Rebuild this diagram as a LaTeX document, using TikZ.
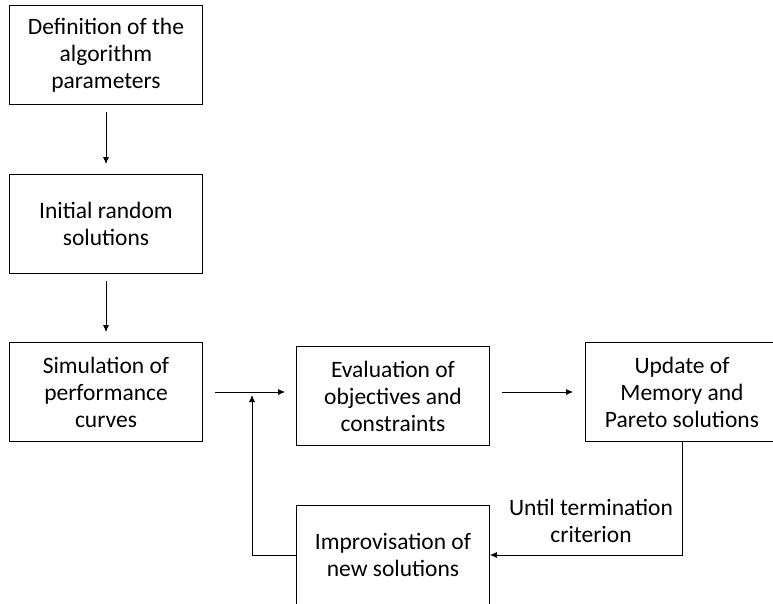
\documentclass[tikz,border=0pt]{standalone}
\usepackage{fontspec}
\setmainfont{Carlito}
\usetikzlibrary{positioning,calc,arrows.meta}

\begin{document}
\begin{tikzpicture}[x=1pt, y=-1pt,
    stage/.style={draw, rectangle, minimum width=193pt, minimum height=99pt,
        align=center, font=\fontsize{23.5}{27}\selectfont, line width=0.8pt},
    flow/.style={-{Latex[length=7pt,width=6pt]}, line width=0.8pt}]
    % Page frame
    \useasboundingbox (0,0) rectangle (773,604);
    \clip (0,0) rectangle (773,604);

    % Left column
    \node[stage] (defn) at (106,55) {Definition of the\\algorithm\\parameters};
    \node[stage] (init) at (106,224) {Initial random\\solutions};
    \node[stage] (simu) at (106,392) {Simulation of\\performance\\curves};

    % Middle row
    \node[stage] (eval) at (393,396) {Evaluation of\\objectives and\\constraints};
    \node[stage] (updt) at (682,392) {Update of\\Memory and\\Pareto solutions};
    \node[stage] (impr) at (393,555) {Improvisation of\\new solutions};

    % Connections
    \draw[flow, shorten <=7pt, shorten >=10pt] (defn) -- (init);
    \draw[flow, shorten <=7pt, shorten >=10pt] (init) -- (simu);
    \draw[flow, shorten <=12pt, shorten >=11pt] (simu.east) -- (simu.east -| eval.west);
    \draw[flow, shorten <=12pt, shorten >=12pt] (eval.east |- updt.west) -- (updt.west);

    % Loop back
    \coordinate (join) at (252,392);
    \draw[flow, shorten >=3pt] (impr.west) -| (join);
    \draw[flow] (updt.south) |- (impr.east);
    \node[align=center, font=\fontsize{23.5}{27}\selectfont] (stop) at (591,521)
        {Until termination\\criterion};
\end{tikzpicture}
\end{document}
